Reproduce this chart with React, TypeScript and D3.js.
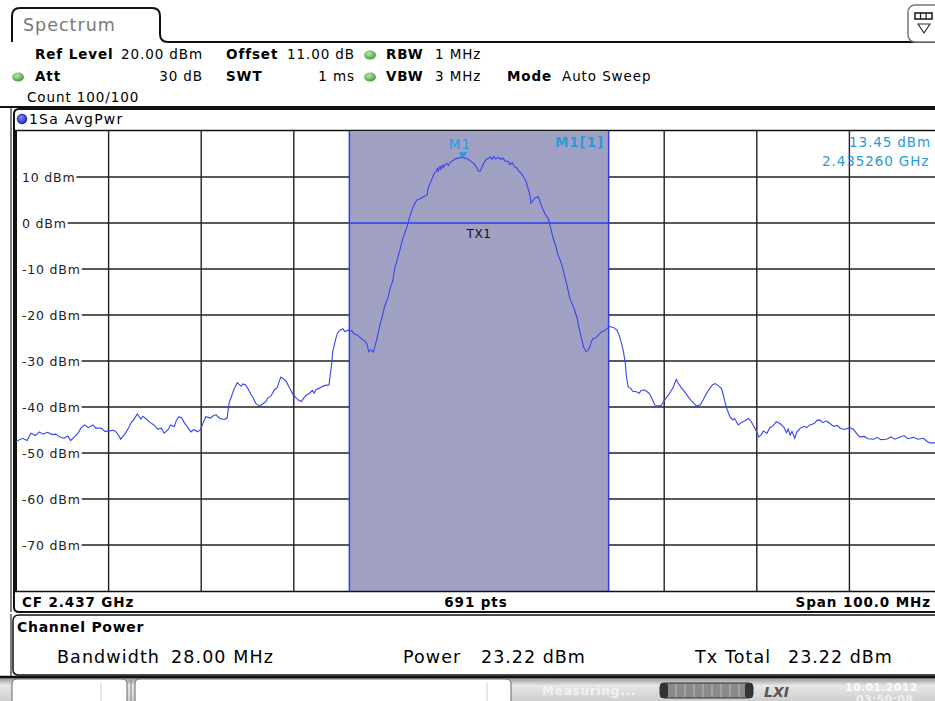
import React, { useEffect, useRef } from 'react';
import * as d3 from 'd3';

// trace readings: frequency (MHz) and level (dBm)
const freqMHz = [
  2387.0, 2387.7, 2388.2, 2388.6, 2389.1, 2389.5, 2389.9, 2390.4, 2390.9, 2391.3,
  2391.8, 2392.2, 2392.6, 2392.9, 2393.3, 2393.7, 2394.0, 2394.4, 2394.8, 2395.3,
  2395.6, 2396.2, 2396.6, 2397.1, 2397.5, 2397.8, 2398.1, 2398.3, 2398.7, 2398.9,
  2399.2, 2399.4, 2399.7, 2400.1, 2400.5, 2400.7, 2401.0, 2401.5, 2401.9, 2402.3,
  2402.7, 2403.0, 2403.4, 2403.7, 2404.1, 2404.3, 2404.6, 2404.9, 2405.2, 2405.6,
  2405.9, 2406.2, 2406.6, 2406.9, 2407.2, 2407.5, 2408.0, 2408.3, 2408.6, 2409.0,
  2409.5, 2409.8, 2410.0, 2410.3, 2410.6, 2410.9, 2411.3, 2411.5, 2411.8, 2412.1,
  2412.4, 2412.6, 2412.9, 2413.3, 2413.6, 2414.0, 2414.2, 2414.5, 2414.9, 2415.2,
  2415.4, 2415.6, 2415.9, 2416.2, 2416.5, 2416.9, 2417.2, 2417.5, 2417.8, 2418.1,
  2418.3, 2418.7, 2419.0, 2419.2, 2419.4, 2419.8, 2420.0, 2420.4, 2420.8, 2421.1,
  2421.2, 2421.5, 2421.7, 2422.0, 2422.3, 2422.5, 2422.9, 2423.3, 2423.5, 2423.8,
  2424.0, 2424.4, 2424.7, 2424.9, 2425.1, 2425.3, 2425.6, 2425.8, 2426.0, 2426.3,
  2426.6, 2426.8, 2427.2, 2427.4, 2427.7, 2427.9, 2428.1, 2428.5, 2428.8, 2429.2,
  2429.4, 2429.7, 2430.0, 2430.3, 2430.6, 2431.0, 2431.4, 2431.5, 2431.8, 2432.1,
  2432.2, 2432.4, 2432.5, 2432.6, 2432.8, 2432.9, 2433.1, 2433.2, 2433.3, 2433.5,
  2433.7, 2433.9, 2434.1, 2434.3, 2434.5, 2434.8, 2435.1, 2435.5, 2435.8, 2436.2,
  2436.5, 2436.8, 2436.9, 2437.1, 2437.3, 2437.5, 2437.8, 2438.0, 2438.2, 2438.4,
  2438.6, 2438.8, 2439.1, 2439.4, 2439.6, 2439.8, 2440.2, 2440.3, 2440.6, 2440.8,
  2441.1, 2441.3, 2441.5, 2441.8, 2442.1, 2442.3, 2442.5, 2442.6, 2442.8, 2443.0,
  2443.4, 2443.6, 2443.8, 2444.1, 2444.5, 2444.7, 2445.0, 2445.3, 2445.5, 2445.7,
  2446.0, 2446.3, 2446.5, 2446.8, 2447.2, 2447.6, 2447.8, 2448.1, 2448.3, 2448.6,
  2448.9, 2449.1, 2449.3, 2449.6, 2449.9, 2450.3, 2450.5, 2450.8, 2451.1, 2451.5,
  2451.9, 2452.1, 2452.4, 2452.6, 2452.8, 2452.9, 2453.1, 2453.4, 2453.6, 2454.0,
  2454.3, 2454.5, 2454.9, 2455.3, 2455.5, 2455.7, 2456.0, 2456.3, 2456.7, 2457.0,
  2457.3, 2457.6, 2458.0, 2458.3, 2458.5, 2458.9, 2459.1, 2459.4, 2459.6, 2460.0,
  2460.5, 2460.9, 2461.2, 2461.5, 2461.8, 2462.2, 2462.5, 2462.8, 2463.2, 2463.4,
  2463.6, 2463.8, 2464.1, 2464.4, 2464.6, 2465.0, 2465.4, 2465.7, 2466.1, 2466.4,
  2466.6, 2466.9, 2467.2, 2467.5, 2467.7, 2468.1, 2468.4, 2468.8, 2469.1, 2469.5,
  2469.9, 2470.2, 2470.4, 2470.6, 2470.8, 2471.1, 2471.3, 2471.7, 2472.1, 2472.4,
  2472.7, 2473.2, 2473.5, 2473.8, 2474.1, 2474.5, 2474.9, 2475.3, 2475.7, 2476.0,
  2476.5, 2477.0, 2477.4, 2477.8, 2478.1, 2478.6, 2479.0, 2479.6, 2480.0, 2480.4,
  2481.0, 2481.5, 2481.9, 2482.5, 2482.9, 2483.3, 2483.9, 2484.4, 2485.0, 2485.4,
  2485.7, 2486.2, 2487.0,
];
const levelDbm = [
  -47.5, -46.8, -47.3, -45.7, -46.2, -45.4, -45.9, -45.5, -46.0, -45.9,
  -46.6, -46.8, -46.3, -47.3, -46.5, -45.7, -44.6, -43.9, -44.5, -43.9,
  -44.6, -44.6, -45.3, -45.2, -45.0, -45.4, -46.2, -47.0, -46.0, -45.4,
  -44.4, -43.5, -42.8, -41.5, -42.6, -42.0, -42.5, -43.4, -43.9, -44.8,
  -44.6, -45.7, -45.0, -43.9, -44.3, -43.0, -42.1, -42.4, -43.5, -44.6,
  -45.4, -44.9, -45.4, -45.0, -43.5, -42.1, -42.4, -41.9, -41.7, -42.5,
  -42.7, -42.4, -39.2, -37.5, -35.9, -34.7, -35.5, -35.0, -35.2, -36.2,
  -37.4, -38.0, -39.2, -39.8, -39.4, -38.8, -38.0, -37.7, -36.3, -35.8,
  -34.6, -33.5, -33.9, -34.5, -35.7, -37.2, -37.9, -38.5, -38.8, -38.0,
  -37.5, -37.0, -36.4, -37.0, -36.2, -35.9, -35.6, -35.3, -35.2, -30.5,
  -28.0, -25.4, -24.0, -23.3, -23.0, -23.6, -23.3, -23.5, -24.1, -24.3,
  -24.6, -25.3, -25.8, -26.3, -28.0, -27.6, -28.0, -26.5, -25.0, -22.2,
  -20.0, -18.2, -16.0, -14.2, -12.5, -9.8, -8.5, -5.5, -3.2, -1.0,
  0.5, 2.5, 4.0, 5.0, 5.2, 5.7, 6.1, 7.5, 9.0, 10.4,
  10.9, 11.2, 11.9, 11.3, 12.3, 11.7, 12.6, 12.1, 12.6, 13.0,
  12.5, 13.2, 13.5, 13.7, 14.0, 14.1, 14.3, 14.1, 13.9, 13.3,
  12.8, 11.9, 11.4, 11.2, 12.0, 13.0, 13.8, 14.0, 14.4, 13.8,
  14.5, 13.9, 14.3, 13.8, 14.1, 13.5, 13.3, 12.7, 13.1, 12.3,
  11.9, 11.2, 10.9, 10.1, 9.0, 7.5, 6.0, 4.3, 4.8, 5.4,
  5.7, 4.6, 3.5, 2.1, 0.8, -0.8, -3.3, -5.0, -6.8, -7.7,
  -9.5, -12.0, -13.5, -16.4, -18.2, -20.7, -22.8, -25.4, -27.0, -28.0,
  -27.3, -26.0, -25.1, -25.0, -24.3, -23.6, -23.5, -23.0, -22.5, -22.7,
  -23.3, -24.2, -26.2, -28.0, -30.5, -33.0, -35.6, -36.0, -36.6, -36.7,
  -37.0, -36.4, -36.3, -36.9, -37.4, -38.3, -39.6, -39.8, -39.6, -38.6,
  -37.8, -37.0, -35.6, -34.0, -34.8, -36.0, -36.4, -37.2, -37.8, -38.8,
  -39.8, -39.5, -38.5, -37.3, -36.3, -35.2, -34.9, -35.3, -36.0, -37.5,
  -39.2, -40.6, -42.1, -42.8, -42.5, -43.9, -43.3, -43.0, -42.5, -43.2,
  -43.9, -45.0, -46.5, -46.0, -45.2, -45.7, -44.5, -44.0, -43.2, -43.6,
  -44.3, -45.6, -44.8, -46.1, -45.3, -46.8, -45.5, -44.6, -44.2, -44.5,
  -43.9, -43.6, -42.9, -42.8, -43.4, -43.0, -43.6, -44.2, -44.0, -44.6,
  -44.9, -44.5, -44.8, -45.8, -46.5, -46.4, -46.9, -47.0, -46.6, -47.1,
  -47.0, -46.5, -47.0, -46.5, -46.2, -46.9, -46.6, -47.0, -46.8, -47.5,
  -47.8, -47.8, -47.6,
];

const yTicks = [10, 0, -10, -20, -30, -40, -50, -60, -70];
const xGrid = [2397, 2407, 2417, 2427, 2437, 2447, 2457, 2467, 2477];
const channel = [2423, 2451];
const txLevel = 0;
const marker = { freq: 2435.26, level: 13.45 };

const FONT = '"DejaVu Sans", Verdana, sans-serif';
const TRACE = '#3644f2';
const MARK = '#2a9ad8';

export default function App() {
  const plotRef = useRef<SVGGElement>(null);

  useEffect(() => {
    document.body.style.margin = '0';
    const g = d3.select(plotRef.current);
    g.selectAll('*').remove();

    const x = d3.scaleLinear().domain([2387, 2487]).range([16, 942]);
    const y = d3.scaleLinear().domain([-80, 20]).range([591, 131]);

    // grid
    g.selectAll('.vg')
      .data(xGrid)
      .enter()
      .append('line')
      .attr('x1', d => x(d)).attr('x2', d => x(d))
      .attr('y1', 131).attr('y2', 591)
      .attr('stroke', '#222').attr('stroke-width', 1.4);

    g.selectAll('.hg')
      .data(yTicks)
      .enter()
      .append('line')
      .attr('x1', 16).attr('x2', 935)
      .attr('y1', d => y(d)).attr('y2', d => y(d))
      .attr('stroke', '#222').attr('stroke-width', 1.4);

    // channel band
    g.append('rect')
      .attr('x', x(channel[0])).attr('y', 131)
      .attr('width', x(channel[1]) - x(channel[0])).attr('height', 460)
      .attr('fill', '#a0a1c2');
    channel.forEach(c => {
      g.append('line')
        .attr('x1', x(c)).attr('x2', x(c)).attr('y1', 131).attr('y2', 591)
        .attr('stroke', '#2f3cf0').attr('stroke-width', 1.5);
    });
    g.append('line')
      .attr('x1', x(channel[0])).attr('x2', x(channel[1]))
      .attr('y1', y(txLevel)).attr('y2', y(txLevel))
      .attr('stroke', '#2f3cf0').attr('stroke-width', 1.3);
    g.append('text')
      .attr('x', x((channel[0] + channel[1]) / 2)).attr('y', y(txLevel) + 15)
      .attr('text-anchor', 'middle')
      .style('font-family', FONT).style('font-size', '12px').style('letter-spacing', '0.6px')
      .attr('fill', '#111')
      .text('TX1');

    // y labels with white backing
    yTicks.forEach(v => {
      const t = g.append('text')
        .attr('x', 22).attr('y', y(v) + 4.5)
        .style('font-family', FONT).style('font-size', '12.5px').style('letter-spacing', '0.8px')
        .attr('fill', '#222')
        .text(`${v} dBm`);
      const bb = (t.node() as SVGTextElement).getBBox();
      g.insert('rect', () => t.node())
        .attr('x', 17).attr('y', y(v) - 3)
        .attr('width', bb.x + bb.width + 1 - 17).attr('height', 6)
        .attr('fill', '#fff');
    });

    // trace
    const pts = freqMHz.map((f, i) => [f, levelDbm[i]] as [number, number]);
    const line = d3.line<[number, number]>()
      .x(d => x(d[0]))
      .y(d => y(d[1]));
    g.append('path')
      .datum(pts)
      .attr('d', line)
      .attr('fill', 'none')
      .attr('stroke', TRACE)
      .attr('stroke-width', 1.1)
      .attr('clip-path', 'url(#plotClip)');

    // marker
    const mx = x(marker.freq);
    const my = y(marker.level) - 3;
    const mstyle = (s: d3.Selection<SVGTextElement, unknown, null, undefined>, bold = false) =>
      s.style('font-family', FONT).style('font-size', '13.5px').style('letter-spacing', '0.9px')
        .style('font-weight', bold ? 'bold' : 'normal').attr('fill', MARK);
    g.append('path')
      .attr('d', `M${mx - 4.5},${my - 6} L${mx + 4.5},${my - 6} L${mx},${my} Z`)
      .attr('fill', MARK);
    mstyle(g.append('text').attr('x', mx - 3).attr('y', my - 9).attr('text-anchor', 'middle').text('M1'));
    mstyle(g.append('text').attr('x', 604).attr('y', 147).attr('text-anchor', 'end').text('M1[1]'), true);
    mstyle(g.append('text').attr('x', 849).attr('y', 147)
      .text(`${marker.level.toFixed(2)} dBm`));
    mstyle(g.append('text').attr('x', 822).attr('y', 166)
      .text(`${(marker.freq / 1000).toFixed(6)} GHz`));
  }, []);

  const txt = (props: any, s: string, bold = false, size = 13.5, ls = 0.9) => (
    <text {...props} style={{ fontFamily: FONT, fontSize: size, fontWeight: bold ? 'bold' : 'normal', letterSpacing: ls }}>{s}</text>
  );
  const dot = (cx: number, cy: number) => (
    <ellipse cx={cx} cy={cy} rx={6} ry={4.5} fill="url(#greenDot)" />
  );

  return (
    <svg width={935} height={701} style={{ display: 'block', background: '#fff' }}>
      <defs>
        <radialGradient id="greenDot" cx="40%" cy="35%" r="70%">
          <stop offset="0%" stopColor="#b8e6a8" />
          <stop offset="100%" stopColor="#3e9a3a" />
        </radialGradient>
        <radialGradient id="blueDot" cx="40%" cy="35%" r="70%">
          <stop offset="0%" stopColor="#7f8cff" />
          <stop offset="100%" stopColor="#1020c0" />
        </radialGradient>
        <linearGradient id="statusBg" x1="0" y1="0" x2="0" y2="1">
          <stop offset="0%" stopColor="#8c8c8c" />
          <stop offset="35%" stopColor="#e6e6e6" />
          <stop offset="100%" stopColor="#cfcfcf" />
        </linearGradient>
        <clipPath id="plotClip">
          <rect x={16} y={131} width={919} height={460} />
        </clipPath>
      </defs>

      {/* tab */}
      <path d="M12,42 L12,16 Q12,8 20,8 L152,8 Q160,8 160,16 L160,34 Q160,42 168,42 L935,42"
        fill="none" stroke="#111" strokeWidth={2} />
      {txt({ x: 23, y: 31, fill: '#777' }, 'Spectrum', false, 17.5, 1)}
      <rect x={908} y={5} width={36} height={37} rx={7} fill="#fff" stroke="#777" strokeWidth={1.5} />
      <rect x={915} y={13} width={17} height={6} fill="#fff" stroke="#222" strokeWidth={1.6} />
      <line x1={920.5} y1={13} x2={920.5} y2={19} stroke="#222" strokeWidth={1.2} />
      <line x1={926} y1={13} x2={926} y2={19} stroke="#222" strokeWidth={1.2} />
      <path d="M918,24 L930,24 L924,33 Z" fill="none" stroke="#333" strokeWidth={1.2} />

      {/* header */}
      {txt({ x: 35, y: 59 }, 'Ref Level', true)}
      {txt({ x: 121, y: 59 }, '20.00 dBm')}
      {txt({ x: 226, y: 59 }, 'Offset', true)}
      {txt({ x: 287, y: 59 }, '11.00 dB')}
      {dot(370, 55)}
      {txt({ x: 386, y: 59 }, 'RBW', true)}
      {txt({ x: 435, y: 59 }, '1 MHz')}
      {dot(18, 77)}
      {txt({ x: 35, y: 81 }, 'Att', true)}
      {txt({ x: 203, y: 81, textAnchor: 'end' }, '30 dB')}
      {txt({ x: 226, y: 81 }, 'SWT', true)}
      {txt({ x: 355, y: 81, textAnchor: 'end' }, '1 ms')}
      {dot(370, 77)}
      {txt({ x: 386, y: 81 }, 'VBW', true)}
      {txt({ x: 435, y: 81 }, '3 MHz')}
      {txt({ x: 507, y: 81 }, 'Mode', true)}
      {txt({ x: 562, y: 81 }, 'Auto Sweep')}
      {txt({ x: 27, y: 102 }, 'Count 100/100')}
      <line x1={0} y1={107} x2={935} y2={107} stroke="#111" strokeWidth={2} />

      {/* graph frame */}
      <path d="M940,109 L19,109 Q14,109 14,114 L14,607 Q14,612 19,612 L940,612"
        fill="none" stroke="#111" strokeWidth={2} />
      <line x1={11} y1={108} x2={11} y2={612} stroke="#555" strokeWidth={1.5} />
      <circle cx={22} cy={119} r={4.8} fill="url(#blueDot)" stroke="#0a1590" strokeWidth={0.8} />
      {txt({ x: 29, y: 124 }, '1Sa AvgPwr', false, 14, 1.2)}
      <line x1={15} y1={130.5} x2={935} y2={130.5} stroke="#111" strokeWidth={1.5} />
      <line x1={16} y1={131} x2={16} y2={592} stroke="#111" strokeWidth={2} />
      <g ref={plotRef} />
      <line x1={15} y1={591.5} x2={935} y2={591.5} stroke="#111" strokeWidth={1.5} />
      {txt({ x: 22, y: 607 }, 'CF 2.437 GHz', true)}
      {txt({ x: 476, y: 607, textAnchor: 'middle' }, '691 pts', true)}
      {txt({ x: 931, y: 607, textAnchor: 'end' }, 'Span 100.0 MHz', true)}

      {/* channel power panel */}
      <path d="M940,615 L19,615 Q13,615 13,621 L13,670 Q13,675 19,675 L940,675"
        fill="none" stroke="#111" strokeWidth={1.5} />
      <line x1={11} y1={614} x2={11} y2={676} stroke="#555" strokeWidth={1.5} />
      {txt({ x: 17, y: 632 }, 'Channel Power', true, 14, 0.7)}
      {txt({ x: 57, y: 663 }, 'Bandwidth', false, 17.5, 1.1)}
      {txt({ x: 171, y: 663 }, '28.00 MHz', false, 17.5, 1.1)}
      {txt({ x: 403, y: 663 }, 'Power', false, 17.5, 1.1)}
      {txt({ x: 481, y: 663 }, '23.22 dBm', false, 17.5, 1.0)}
      {txt({ x: 695, y: 663 }, 'Tx Total', false, 17.5, 1.1)}
      {txt({ x: 788, y: 663 }, '23.22 dBm', false, 17.5, 1.0)}

      {/* status bar */}
      <rect x={0} y={677} width={935} height={24} fill="url(#statusBg)" />
      <line x1={0} y1={677} x2={935} y2={677} stroke="#111" strokeWidth={2.5} />
      <path d="M12,701 L12,684 Q12,679 17,679 L122,679 Q127,679 127,684 L127,701" fill="#fff" stroke="#666" strokeWidth={1} />
      <line x1={101} y1={683} x2={101} y2={701} stroke="#ccc" strokeWidth={1} />
      <line x1={131} y1={679} x2={131} y2={701} stroke="#888" strokeWidth={1} />
      <path d="M135,701 L135,684 Q135,679 140,679 L506,679 Q511,679 511,684 L511,701" fill="#fff" stroke="#666" strokeWidth={1} />
      <line x1={487} y1={683} x2={487} y2={701} stroke="#ccc" strokeWidth={1} />
      {txt({ x: 542, y: 695, fill: '#f2f2f2' }, 'Measuring...', true, 12, 0.8)}
      <rect x={660} y={683} width={93} height={15} rx={4} fill="#8a8a8a" stroke="#333" strokeWidth={1} />
      <rect x={660} y={683} width={8} height={15} rx={3} fill="#333" />
      <rect x={745} y={683} width={8} height={15} rx={3} fill="#333" />
      {d3.range(676, 745, 9).map(v => (
        <line key={v} x1={v} y1={684} x2={v} y2={697} stroke="#bdbdbd" strokeWidth={1} />
      ))}
      {txt({ x: 764, y: 697, fill: '#555', fontStyle: 'italic' }, 'LXI', true, 14, 0)}
      {txt({ x: 845, y: 691, fill: '#fafafa' }, '10.01.2012', true, 11, 0.3)}
      {txt({ x: 856, y: 703, fill: '#f0f0f0' }, '03:50:08', true, 11, 0.3)}
    </svg>
  );
}
